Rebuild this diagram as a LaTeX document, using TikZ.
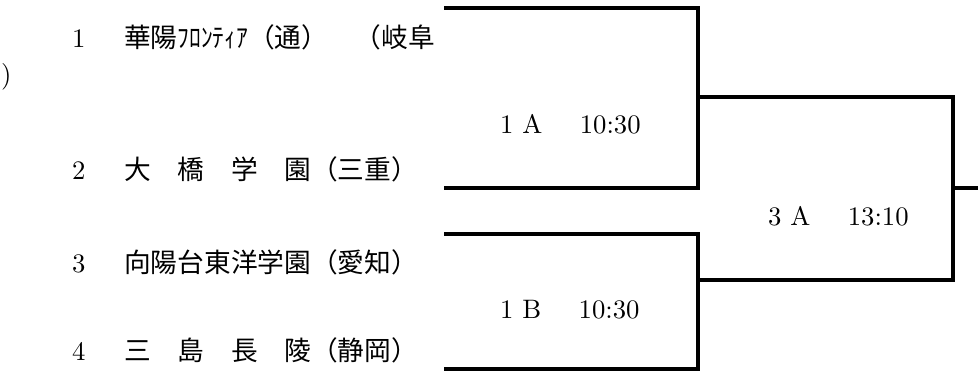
\documentclass[tikz,border=0pt]{standalone}
\usepackage{graphicx}
\usepackage{fontspec}
\setmainfont{lmroman10-regular.otf}
\newfontfamily\jp{Noto Sans CJK JP}
\usetikzlibrary{positioning}
\tikzstyle{team} = [anchor=base west, inner sep=0pt, font={\fontsize{26.7}{32}\selectfont}]
\tikzstyle{game} = [team]
\tikzstyle{bracket} = [line width=3.5pt]

\begin{document}
\begin{tikzpicture}[x=1pt,y=-1pt]
    \useasboundingbox (0,0) rectangle (978,372);
    \node[team](n1) at (72,47){1};
    \node[team](t1) at (124,47){\jp 華陽\scalebox{0.88}[1]{ﾌﾛﾝﾃｨｱ}（通）　（岐阜};
    \node[team](t1b) at (1,83){)};
    \node[team](n2) at (72,179){2};
    \node[team](t2) at (124,179){\jp 大　橋　学　園（三重）};
    \node[team](n3) at (72,272){3};
    \node[team](t3) at (124,272){\jp 向陽台東洋学園（愛知）};
    \node[team](n4) at (72,360){4};
    \node[team](t4) at (124,360){\jp 三　島　長　陵（静岡）};
    \coordinate (a1) at (444,8);
    \coordinate (a2) at (444,188);
    \coordinate (a3) at (444,234);
    \coordinate (a4) at (444,369);
    \coordinate (m1) at (698,97);
    \coordinate (m2) at (698,280);
    \coordinate (f) at (953,188);
    \coordinate (out) at (978,188);
    \draw[bracket](a1) -| (m1) |- (a2);
    \draw[bracket](a3) -| (m2) |- (a4);
    \draw[bracket](m1) -| (f) |- (m2);
    \draw[bracket](f) -- (out);
    \node[game](g1) at (500,133){1~A\hspace{1.4em}10:30};
    \node[game](g2) at (500,318){1~B\hspace{1.4em}10:30};
    \node[game](g3) at (768,225){3~A\hspace{1.4em}13:10};
  \end{tikzpicture}
\end{document}
